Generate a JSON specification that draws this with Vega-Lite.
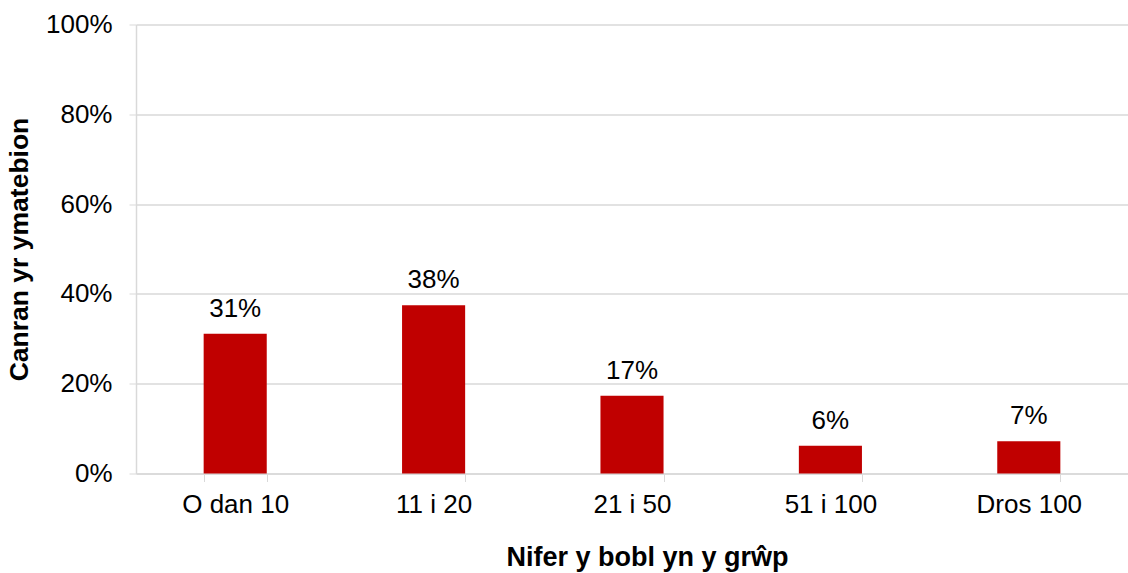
{
  "$schema": "https://vega.github.io/schema/vega-lite/v6.json",
  "autosize": "none",
  "width": 992,
  "height": 449,
  "padding": {"left": 136, "top": 24.5, "right": 0, "bottom": 99.5},
  "background": "white",
  "config": {
    "view": {"stroke": null},
    "font": "Liberation Sans",
    "axis": {"labelFont": "Liberation Sans", "titleFont": "Liberation Sans"}
  },
  "data": {
    "values": [
      {"group": "O dan 10", "pct": 0.311},
      {"group": "11 i 20", "pct": 0.375},
      {"group": "21 i 50", "pct": 0.173},
      {"group": "51 i 100", "pct": 0.062},
      {"group": "Dros 100", "pct": 0.072}
    ]
  },
  "encoding": {
    "x": {
      "field": "group",
      "type": "nominal",
      "sort": null,
      "scale": {"paddingInner": 0.682, "paddingOuter": 0.341},
      "axis": {
        "title": "Nifer y bobl yn y grŵp",
        "titleFontSize": 27,
        "titleFontWeight": "bold",
        "titleColor": "#000000",
        "titlePadding": 27,
        "titleX": 511,
        "titleAlign": "center",
        "labelAngle": 0,
        "labelFontSize": 26,
        "labelColor": "#000000",
        "labelPadding": 10,
        "tickBand": "extent",
        "tickSize": 8,
        "tickColor": "#d9d9d9",
        "domainColor": "#d9d9d9",
        "domainWidth": 1.5,
        "grid": false
      }
    },
    "y": {
      "field": "pct",
      "type": "quantitative",
      "scale": {"domain": [0, 1]},
      "axis": {
        "title": "Canran yr ymatebion",
        "titleFontSize": 26.5,
        "titleFontWeight": "bold",
        "titleColor": "#000000",
        "titlePadding": 12,
        "format": ".0%",
        "values": [0, 0.2, 0.4, 0.6, 0.8, 1],
        "labelFontSize": 26,
        "labelColor": "#000000",
        "labelPadding": 17,
        "tickSize": 7,
        "tickColor": "#d9d9d9",
        "domainColor": "#d9d9d9",
        "domainWidth": 1.5,
        "gridColor": "#d9d9d9",
        "gridWidth": 1.5
      }
    }
  },
  "layer": [
    {"mark": {"type": "bar", "color": "#c00000"}},
    {
      "mark": {"type": "text", "fontSize": 26, "color": "#000000", "baseline": "alphabetic", "dy": -17},
      "encoding": {"text": {"field": "pct", "type": "quantitative", "format": ".0%"}}
    }
  ]
}
